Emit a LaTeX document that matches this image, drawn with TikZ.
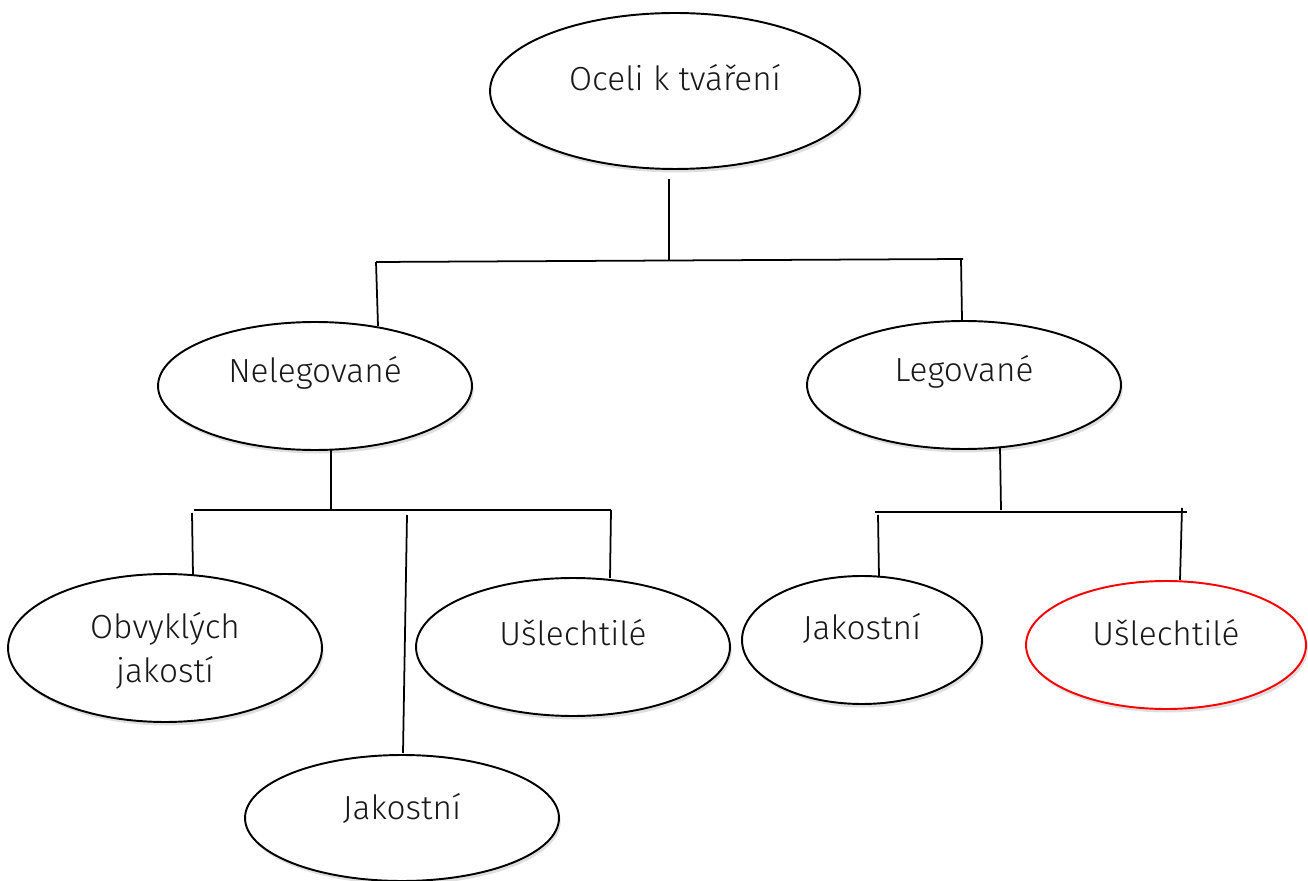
\documentclass[tikz,border=0pt]{standalone}
\usepackage{fontspec}
\setmainfont{Fira Sans Light}
\usetikzlibrary{shapes.geometric,shadows}

\begin{document}
\begin{tikzpicture}[x=0.02cm, y=-0.02cm,
	oval/.style={ellipse, draw, line width=1.1pt, fill=white, inner sep=0pt,
		drop shadow={opacity=0.25, shadow xshift=1pt, shadow yshift=-2pt}},
	branch/.style={line width=1pt},
	every label/.style={font=\fontsize{19}{25}\selectfont, text=black!90, align=center}]
			\useasboundingbox (0,0) rectangle (1308,881);
			
			\node[oval, minimum width=7.4cm, minimum height=3.12cm,
				label={[yshift=7.4pt]center:Oceli k tváření}] (oceli) at (675,91){};
			
			\node[oval, minimum width=6.28cm, minimum height=2.56cm,
				label={[yshift=7.4pt]center:Nelegované}] (neleg) at (315,386){};
			\node[oval, minimum width=6.28cm, minimum height=2.56cm,
				label={[yshift=7.4pt]center:Legované}] (leg) at (964,385){};
			
			\node[oval, minimum width=6.28cm, minimum height=2.96cm,
				label={[yshift=-1.5pt]center:Obvyklých\\jakostí}] (obv) at (165,648){};
			\node[oval, minimum width=6.28cm, minimum height=2.76cm,
				label={[yshift=8pt]center:Ušlechtilé}] (usl) at (573,647){};
			\node[oval, minimum width=6.28cm, minimum height=2.52cm,
				label={[yshift=5.7pt]center:Jakostní}] (jak) at (402,818){};
			
			\node[oval, minimum width=4.8cm, minimum height=2.56cm,
				label={[yshift=6.8pt]center:Jakostní}] (legjak) at (862,640){};
			\node[oval, draw=red, minimum width=5.6cm, minimum height=2.56cm,
				label={[yshift=6.8pt]center:Ušlechtilé}] (legusl) at (1166,645){};
			
			% first level
			\coordinate (s0) at (669,179);
			\coordinate (b0) at (669,260);
			\coordinate (b0l) at (376,262);
			\coordinate (b0r) at (963,259);
			\draw[branch] (s0) -- (b0);
			\draw[branch] (b0l) -- (b0r);
			\draw[branch] (b0l) -- (378,326) coordinate (e0l);
			\draw[branch] (961,259) -- (962,320) coordinate (e0r);
			
			% nelegovane
			\coordinate (s1) at (331,450);
			\coordinate (b1) at (331,510);
			\coordinate (b1l) at (194,510);
			\coordinate (b1r) at (611,510);
			\draw[branch] (s1) -- (b1);
			\draw[branch] (b1l) -- (b1r);
			\draw[branch] (192,513) -- (193,575) coordinate (e1l);
			\draw[branch] (407,515) -- (403,753) coordinate (e1m);
			\draw[branch] (b1r) -- (610,578) coordinate (e1r);
			
			% legovane
			\coordinate (s2) at (1000,447);
			\coordinate (b2) at (1001,510);
			\coordinate (b2l) at (875,512);
			\coordinate (b2r) at (1187,512);
			\draw[branch] (s2) -- (b2);
			\draw[branch] (b2l) -- (b2r);
			\draw[branch] (878,515) -- (879,577) coordinate (e2l);
			\draw[branch] (1182,508) -- (1180,580) coordinate (e2r);
			
		\end{tikzpicture}
\end{document}
